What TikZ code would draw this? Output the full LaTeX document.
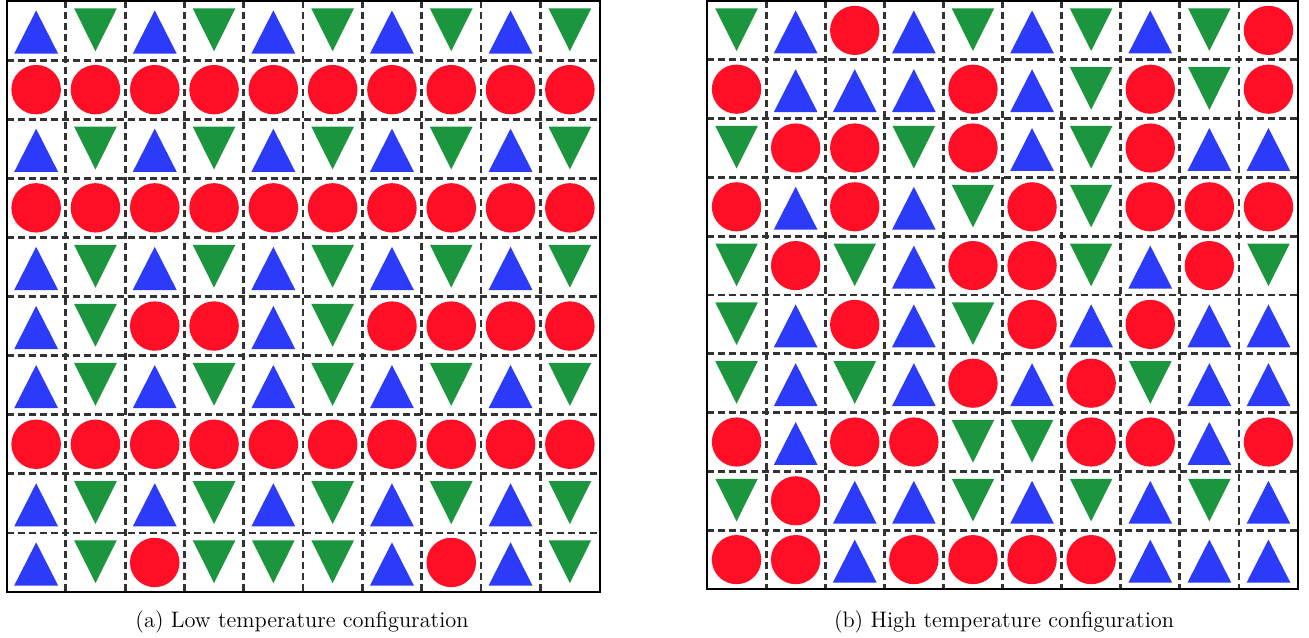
\documentclass[tikz,border=0pt]{standalone}
\usepackage{tikz}
\definecolor{upblue}{RGB}{44,58,250}
\definecolor{downgreen}{RGB}{27,150,62}
\definecolor{circred}{RGB}{255,14,38}
\tikzstyle{cellline}=[line width=1.4pt, dash pattern=on 3.5pt off 2pt, black!80]
\tikzstyle{frame}=[line width=1pt, black]
\tikzstyle{upspin}=[fill=upblue]
\tikzstyle{downspin}=[fill=downgreen]
\tikzstyle{circspin}=[fill=circred]
\tikzstyle{caption}=[font=\fontsize{11.2}{13}\selectfont, anchor=base]
\newcommand{\spinU}[1]{\fill[upspin] (#1) ++(0,-0.34) -- ++(0.37,0.73) -- ++(-0.74,0) -- cycle;}
\newcommand{\spinD}[1]{\fill[downspin] (#1) ++(0,0.35) -- ++(0.36,-0.725) -- ++(-0.72,0) -- cycle;}
\newcommand{\spinC}[1]{\fill[circspin] (#1) circle [radius=0.418];}

\begin{document}
\begin{tikzpicture}[x=0.5pt, y=-0.5pt]
	\useasboundingbox (0,0) rectangle (1309,637);

	\begin{scope}[shift={(6.5,1)}, x=29.65pt, y=-29.55pt]
		\foreach \row [count=\r] in {
			{U,D,U,D,U,D,U,D,U,D},
			{C,C,C,C,C,C,C,C,C,C},
			{U,D,U,D,U,D,U,D,U,D},
			{C,C,C,C,C,C,C,C,C,C},
			{U,D,U,D,U,D,U,D,U,D},
			{U,D,C,C,U,D,C,C,C,C},
			{U,D,U,D,U,D,U,D,U,D},
			{C,C,C,C,C,C,C,C,C,C},
			{U,D,U,D,U,D,U,D,U,D},
			{U,D,C,D,D,D,U,C,U,D}}
			\foreach \s [count=\c] in \row
				\csname spin\s\endcsname{\c-0.5,\r-0.5};
		\foreach \k in {1,...,9} {
			\draw[cellline] (\k,0) -- (\k,10);
			\draw[cellline] (0,\k) -- (10,\k);
		}
		\draw[frame] (0,0) rectangle (10,10);
	\end{scope}

	\begin{scope}[shift={(707,1)}, x=29.55pt, y=-29.4pt]
		\foreach \row [count=\r] in {
			{D,U,C,U,D,U,D,U,D,C},
			{C,U,U,U,C,U,D,C,D,C},
			{D,C,C,D,C,U,D,C,U,U},
			{C,U,C,U,D,C,D,C,C,C},
			{D,C,D,U,C,C,D,U,C,D},
			{D,U,C,U,D,C,U,C,U,U},
			{D,U,D,U,C,U,C,D,U,U},
			{C,U,C,C,D,D,C,C,U,C},
			{D,C,U,U,D,U,D,U,D,U},
			{C,C,U,C,C,C,C,U,U,U}}
			\foreach \s [count=\c] in \row
				\csname spin\s\endcsname{\c-0.5,\r-0.5};
		\foreach \k in {1,...,9} {
			\draw[cellline] (\k,0) -- (\k,10);
			\draw[cellline] (0,\k) -- (10,\k);
		}
		\draw[frame] (0,0) rectangle (10,10);
	\end{scope}

	\node[caption] (capa) at (302,627) {(a) Low temperature configuration};
	\node[caption] (capb) at (1004,627) {(b) High temperature configuration};
\end{tikzpicture}
\end{document}
